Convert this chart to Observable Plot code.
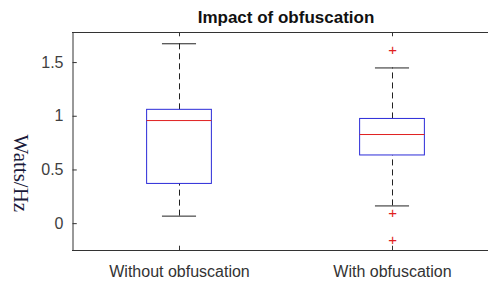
<!DOCTYPE html>
<html><head><meta charset="utf-8">
<script src="https://cdn.jsdelivr.net/npm/d3@7"></script>
<script src="https://cdn.jsdelivr.net/npm/@observablehq/plot@0.6"></script>
<style>html,body{margin:0;padding:0;overflow:hidden;background:#fff}</style>
</head><body><div id="chart"></div>
<script>
const categories = ["Without obfuscation", "With obfuscation"];
const q1 = [0.37, 0.635];
const median = [0.96, 0.83];
const q3 = [1.06, 0.975];
const whiskerLow = [0.07, 0.165];
const whiskerHigh = [1.675, 1.45];
const outlierGroup = [2, 2, 2];
const outlierValue = [1.61, 0.09, -0.166];
const yTicks = [0, 0.5, 1, 1.5];
const title = "Impact of obfuscation";
const yLabel = "Watts/Hz";

const boxes = categories.map((c, i) => ({
  pos: i + 1, name: c, q1: q1[i], med: median[i], q3: q3[i], lo: whiskerLow[i], hi: whiskerHigh[i]
}));
const outliers = outlierGroup.map((g, i) => ({pos: g, v: outlierValue[i]}));
const bw = 0.152, cw = 0.08;
const axisColor = "#333";
const font = "Liberation Sans, Arial, sans-serif";

const plot = Plot.plot({
  width: 488, height: 282,
  marginLeft: 72, marginRight: 0, marginTop: 32, marginBottom: 32,
  style: {fontFamily: font, overflow: "hidden", background: "#fff"},
  x: {type: "linear", domain: [0.5, 2.5], range: [72.5, 498.5]},
  y: {domain: [-0.25, 1.78]},
  marks: [
    Plot.ruleY([-0.25, 1.78], {stroke: axisColor, strokeWidth: 1}),
    Plot.ruleX([0.5], {y1: -0.25, y2: 1.78, stroke: axisColor}),
    Plot.ruleY(yTicks, {x1: 0.5, x2: 0.52, stroke: axisColor}),
    Plot.ruleX(boxes, {x: "pos", y1: -0.25, y2: -0.21, stroke: axisColor}),
    Plot.ruleX(boxes, {x: "pos", y1: 1.78, y2: 1.74, stroke: axisColor}),
    Plot.axisY({ticks: yTicks, tickSize: 0, tickPadding: 9, fontSize: 16, color: "#404040", label: null, tickFormat: d => String(d)}),
    Plot.axisX({ticks: [1, 2], tickSize: 0, tickPadding: 15, fontSize: 16, color: "#333", label: null, tickFormat: d => categories[d - 1]}),
    Plot.ruleX(boxes, {x: "pos", y1: "q3", y2: "hi", stroke: "#222", strokeDasharray: "6,4"}),
    Plot.ruleX(boxes, {x: "pos", y1: "lo", y2: "q1", stroke: "#222", strokeDasharray: "6,4"}),
    Plot.ruleY(boxes, {y: "hi", x1: d => d.pos - cw, x2: d => d.pos + cw, stroke: "#222"}),
    Plot.ruleY(boxes, {y: "lo", x1: d => d.pos - cw, x2: d => d.pos + cw, stroke: "#222"}),
    Plot.rect(boxes, {x1: d => d.pos - bw, x2: d => d.pos + bw, y1: "q1", y2: "q3", fill: "none", stroke: "#2b2bd8"}),
    Plot.ruleY(boxes, {y: "med", x1: d => d.pos - bw, x2: d => d.pos + bw, stroke: "#e02020"}),
    Plot.text(outliers, {x: "pos", y: "v", text: () => "+", fill: "#e02020", fontSize: 15, lineAnchor: "middle", dy: -1}),
    Plot.text([title], {x: 1.5, frameAnchor: "top", dy: -10, lineAnchor: "bottom", fontSize: 17, fontWeight: "bold", fill: "#111"}),
    Plot.text([yLabel], {y: 0.83, frameAnchor: "left", dx: -52, rotate: 90, fontSize: 21, fontFamily: "Liberation Serif, Times New Roman, serif", fill: "#1a1a3a"})
  ]
});
document.getElementById("chart").appendChild(plot);
</script></body></html>
